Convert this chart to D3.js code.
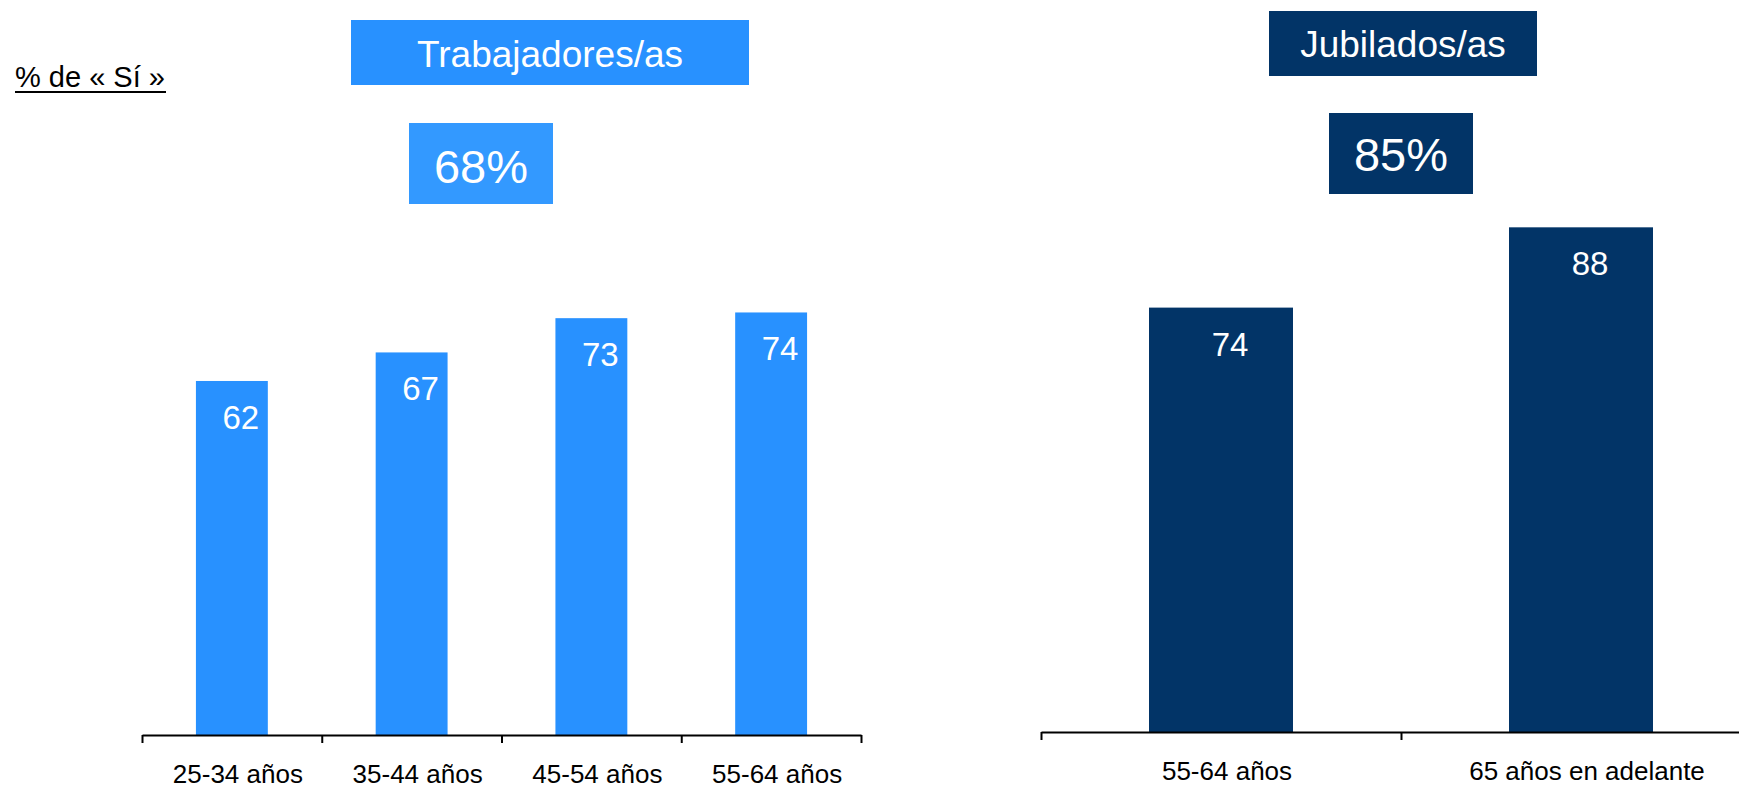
<!DOCTYPE html>
<html>
<head>
<meta charset="utf-8">
<script src="https://cdn.jsdelivr.net/npm/d3@7/dist/d3.min.js"></script>
<style>
  html, body { margin: 0; padding: 0; background: #ffffff; }
  svg { display: block; font-family: "Liberation Sans", Arial, sans-serif; }
</style>
</head>
<body>
<svg id="chart" width="1739" height="787"></svg>
<script>
// ---- data ----
const workerCategories = ["25-34 años", "35-44 años", "45-54 años", "55-64 años"];
const workerValues = [62, 67, 73, 74];
const retireeCategories = ["55-64 años", "65 años en adelante"];
const retireeValues = [74, 88];
const workerTitle = "Trabajadores/as";
const retireeTitle = "Jubilados/as";
const workerTotal = "68%";
const retireeTotal = "85%";
const unitLabel = "% de « Sí »";

const lightBlue = "#2891ff";
const lightBlueBox = "#3399ff";
const darkBlue = "#023467";

const svg = d3.select("#chart");

// unit label with underline
svg.append("text")
  .attr("x", 15).attr("y", 87)
  .attr("font-size", 29)
  .attr("fill", "#000")
  .text(unitLabel);
svg.append("line")
  .attr("x1", 15).attr("x2", 166)
  .attr("y1", 92).attr("y2", 92)
  .attr("stroke", "#000").attr("stroke-width", 2);

function drawPanel(cfg) {
  const g = svg.append("g");
  const x = d3.scaleBand()
    .domain(cfg.categories)
    .range(cfg.xRange)
    .paddingInner(0.6)
    .paddingOuter(0.3);
  const y = d3.scaleLinear().domain([0, 100]).range([cfg.y0, cfg.y0 - cfg.pxPer100]);

  // bars
  g.selectAll("rect.bar")
    .data(cfg.values)
    .join("rect")
    .attr("class", "bar")
    .attr("x", (d, i) => x(cfg.categories[i]))
    .attr("width", x.bandwidth())
    .attr("y", d => y(d))
    .attr("height", d => y(0) - y(d))
    .attr("fill", cfg.color);

  // value labels inside bars
  g.selectAll("text.val")
    .data(cfg.values)
    .join("text")
    .attr("class", "val")
    .attr("x", (d, i) => x(cfg.categories[i]) + x.bandwidth() / 2 + 9)
    .attr("y", d => y(d) + 48)
    .attr("text-anchor", "middle")
    .attr("font-size", 33)
    .attr("fill", "#ffffff")
    .text(d => d);

  // axis line with boundary ticks
  const step = x.step();
  const boundaries = cfg.categories.map(c => x(c) - step * x.paddingOuter());
  boundaries.push(cfg.xRange[1]);
  const lin = d3.scaleLinear().domain(cfg.xRange).range(cfg.xRange);
  const axisG = g.append("g")
    .attr("transform", `translate(0,${cfg.y0})`)
    .call(d3.axisBottom(lin).tickValues(boundaries).tickSize(8).tickSizeOuter(0).tickFormat(""));
  axisG.select(".domain").attr("stroke", "#000").attr("stroke-width", 2);
  axisG.selectAll(".tick line").attr("stroke", "#000").attr("stroke-width", 2);

  // category labels
  const labG = g.append("g")
    .attr("transform", `translate(6,${cfg.y0})`)
    .call(d3.axisBottom(x).tickSize(0));
  labG.select(".domain").remove();
  labG.selectAll("text")
    .attr("y", 47.5).attr("dy", 0)
    .attr("font-size", 26)
    .attr("font-family", "Liberation Sans, Arial, sans-serif")
    .attr("fill", "#000");

  // title box
  g.append("rect")
    .attr("x", cfg.titleBox[0]).attr("y", cfg.titleBox[1])
    .attr("width", cfg.titleBox[2]).attr("height", cfg.titleBox[3])
    .attr("fill", cfg.color);
  g.append("text")
    .attr("x", cfg.titleBox[0] + cfg.titleBox[2] / 2)
    .attr("y", cfg.titleBaseline)
    .attr("text-anchor", "middle")
    .attr("font-size", 37)
    .attr("fill", "#fff")
    .text(cfg.title);

  // total box
  g.append("rect")
    .attr("x", cfg.totalBox[0]).attr("y", cfg.totalBox[1])
    .attr("width", cfg.totalBox[2]).attr("height", cfg.totalBox[3])
    .attr("fill", cfg.boxColor);
  g.append("text")
    .attr("x", cfg.totalBox[0] + cfg.totalBox[2] / 2)
    .attr("y", cfg.totalBaseline)
    .attr("text-anchor", "middle")
    .attr("font-size", 47)
    .attr("fill", "#fff")
    .text(cfg.total);
}

drawPanel({
  categories: workerCategories,
  values: workerValues,
  xRange: [142, 861],
  y0: 735,
  pxPer100: 571,
  color: lightBlue,
  boxColor: lightBlueBox,
  title: workerTitle,
  titleBox: [351, 20, 398, 65],
  titleBaseline: 67,
  total: workerTotal,
  totalBox: [409, 123, 144, 81],
  totalBaseline: 183
});

drawPanel({
  categories: retireeCategories,
  values: retireeValues,
  xRange: [1041, 1761],
  y0: 732,
  pxPer100: 573.5,
  color: darkBlue,
  boxColor: darkBlue,
  title: retireeTitle,
  titleBox: [1269, 11, 268, 65],
  titleBaseline: 57,
  total: retireeTotal,
  totalBox: [1329, 113, 144, 81],
  totalBaseline: 171
});
</script>
</body>
</html>
